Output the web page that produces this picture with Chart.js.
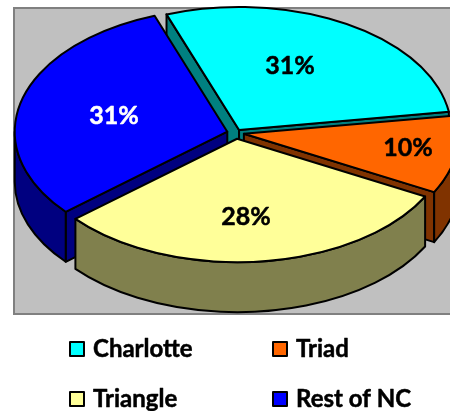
<!DOCTYPE html>
<html>
<head>
<meta charset="utf-8">
<style>html,body{margin:0;padding:0;background:#fff;overflow:hidden}canvas{display:block}</style>
<script src="https://cdn.jsdelivr.net/npm/chart.js@4"></script>
</head>
<body>
<canvas id="c" width="450" height="411"></canvas>
<script>
const categories = ['Charlotte', 'Triad', 'Triangle', 'Rest of NC'];
const sliceShares = [28.2, 10.1, 31, 30.7];
const percentLabels = ['31%', '10%', '28%', '31%'];
const topColors = ['#00FFFF', '#FF6600', '#FFFF99', '#0000FF'];
const wallColors = ['#008080', '#803300', '#80804D', '#000080'];

const SQUASH = 0.58, DEPTH = 50, FONT = 'Lato, "Open Sans", sans-serif';
const labelSpots = [[290, 66], [408, 148], [246, 217], [114, 116]];
const labelInk = ['#000', '#000', '#000', '#fff'];
const legendSpots = [[70, 357], [273, 357], [70, 407], [273, 407]];

function geometry(chart, i) {
  const arc = chart.getDatasetMeta(0).data[i];
  const p = arc.getProps(['x', 'y', 'startAngle', 'endAngle', 'outerRadius', 'circumference']);
  const d = (arc.options.offset || 0) / 4;
  const mid = (p.startAngle + p.endAngle) / 2;
  const fix = 1 - Math.sin(Math.min(Math.PI, p.circumference));
  return {
    vx: p.x + Math.cos(mid) * d,
    vy: p.y + Math.sin(mid) * d * SQUASH,
    r: p.outerRadius + d * fix,
    a0: p.startAngle, a1: p.endAngle
  };
}
function topPath(ctx, g) {
  ctx.beginPath();
  ctx.moveTo(g.vx, g.vy);
  ctx.ellipse(g.vx, g.vy, g.r, g.r * SQUASH, 0, g.a0, g.a1);
  ctx.closePath();
}
function drawWall(ctx, g, color) {
  const px = a => g.vx + g.r * Math.cos(a), py = a => g.vy + g.r * SQUASH * Math.sin(a);
  ctx.fillStyle = color; ctx.strokeStyle = '#000'; ctx.lineWidth = 2; ctx.lineJoin = 'round';
  // radial faces: only those that turn towards the viewer
  [[g.a0, -Math.PI / 2], [g.a1, Math.PI / 2]].forEach(([a, n]) => {
    if (Math.sin(a + n) <= 0) return;
    ctx.beginPath();
    ctx.moveTo(g.vx, g.vy); ctx.lineTo(px(a), py(a));
    ctx.lineTo(px(a), py(a) + DEPTH); ctx.lineTo(g.vx, g.vy + DEPTH);
    ctx.closePath(); ctx.fill(); ctx.stroke();
  });
  // outer rim: only the front half of the ellipse
  const from = Math.max(g.a0, 0), to = Math.min(g.a1, Math.PI);
  if (to > from) {
    ctx.beginPath();
    ctx.ellipse(g.vx, g.vy, g.r, g.r * SQUASH, 0, from, to);
    ctx.ellipse(g.vx, g.vy + DEPTH, g.r, g.r * SQUASH, 0, to, from, true);
    ctx.closePath(); ctx.fill(); ctx.stroke();
  }
}
function inkText(ctx, t, x, y, color) {
  ctx.fillStyle = color; ctx.strokeStyle = color; ctx.lineWidth = 0.5;
  ctx.fillText(t, x, y); ctx.strokeText(t, x, y);
}

const pie3d = {
  id: 'pie3d',
  beforeDraw(chart) {
    const ctx = chart.ctx;
    ctx.save();
    ctx.fillStyle = '#fff'; ctx.fillRect(0, 0, 450, 411);
    ctx.fillStyle = '#C0C0C0'; ctx.fillRect(14, 8, 440, 306);
    ctx.strokeStyle = '#808080'; ctx.lineWidth = 2; ctx.strokeRect(14, 8, 440, 306);
    ctx.restore();
  },
  beforeDatasetsDraw(chart) {
    const ctx = chart.ctx;
    [0, 3, 1, 2].forEach(i => drawWall(ctx, geometry(chart, i), wallColors[i]));
    const p = chart.getDatasetMeta(0).data[0];
    ctx.save();
    ctx.translate(0, p.y);
    ctx.scale(1, SQUASH);
    ctx.translate(0, -p.y);
  },
  afterDatasetsDraw(chart) {
    const ctx = chart.ctx;
    ctx.restore();
    ctx.save();
    ctx.strokeStyle = '#000'; ctx.lineWidth = 2; ctx.lineJoin = 'round';
    categories.forEach((_, i) => { topPath(ctx, geometry(chart, i)); ctx.stroke(); });
    ctx.textBaseline = 'middle'; ctx.textAlign = 'center';
    ctx.font = 'bold 25px ' + FONT;
    percentLabels.forEach((t, i) => inkText(ctx, t, labelSpots[i][0], labelSpots[i][1], labelInk[i]));
    ctx.textBaseline = 'alphabetic'; ctx.textAlign = 'left';
    ctx.font = 'bold 24px ' + FONT;
    categories.forEach((t, i) => {
      const [x, y] = legendSpots[i];
      ctx.fillStyle = topColors[i];
      ctx.fillRect(x, y - 15, 14, 14);
      ctx.strokeStyle = '#000'; ctx.lineWidth = 2;
      ctx.strokeRect(x, y - 15, 14, 14);
      inkText(ctx, t, x + 23, y, '#000');
    });
    ctx.restore();
  }
};

new Chart(document.getElementById('c'), {
  type: 'pie',
  data: {
    labels: categories,
    datasets: [{
      data: sliceShares,
      backgroundColor: topColors,
      borderWidth: 0,
      offset: [24, 32, 40, 36],
      clip: false
    }]
  },
  options: {
    responsive: false,
    animation: false,
    rotation: -20,
    radius: 212,
    layout: { padding: { left: 22, right: 0, top: 0, bottom: 145 } },
    plugins: { legend: { display: false }, tooltip: { enabled: false } },
    events: []
  },
  plugins: [pie3d]
});
</script>
</body>
</html>
